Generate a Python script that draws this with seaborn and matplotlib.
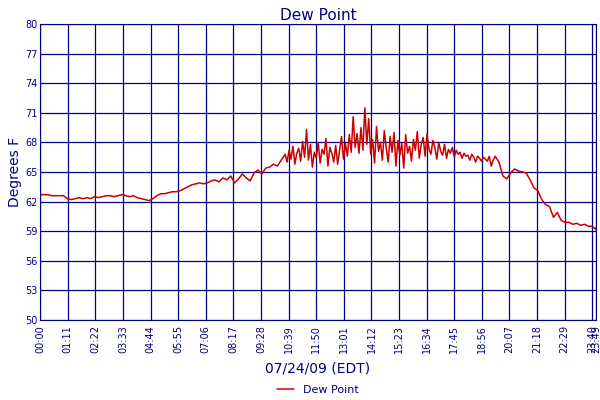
import matplotlib
matplotlib.use("Agg")
import matplotlib.pyplot as plt
import seaborn as sns
import pandas as pd

# quiet morning, 10-minute readings 00:00 - 10:20
early_vals = [62.7, 62.7, 62.7, 62.6, 62.6, 62.6, 62.6, 62.3, 62.2, 62.3, 62.4, 62.3,
              62.4, 62.3, 62.5, 62.4, 62.5, 62.6, 62.6, 62.5, 62.6, 62.7, 62.6, 62.5,
              62.6, 62.4, 62.3, 62.2, 62.1, 62.3, 62.6, 62.8, 62.8, 62.9, 63.0, 63.0,
              63.1, 63.3, 63.5, 63.7, 63.8, 63.9, 63.8, 63.9, 64.1, 64.2, 64.0, 64.4,
              64.2, 64.6, 63.9, 64.3, 64.8, 64.4, 64.1, 64.9, 65.2, 64.8, 65.4, 65.5,
              65.8, 65.6, 66.2]
# noisy middle of the day, 5-minute readings 10:30 - 19:25
mid_vals = [66.8, 66.0, 67.2, 66.3, 67.6, 65.8, 66.9, 67.4, 66.1, 68.1, 66.5, 69.3,
            66.2, 67.8, 65.5, 67.0, 66.4, 68.0, 65.9, 67.3, 66.8, 68.4, 65.6, 67.5,
            66.9, 66.0, 67.7, 65.8, 67.2, 68.6, 66.3, 67.9, 66.6, 68.8, 67.0, 70.6,
            67.5, 68.9, 66.9, 69.5, 67.2, 71.5, 67.8, 70.4, 66.8, 68.3, 65.9, 69.6,
            67.1, 68.0, 66.2, 69.2, 67.4, 66.0, 68.6, 67.0, 69.0, 65.6, 68.2, 66.7,
            67.9, 65.4, 68.8, 66.9, 67.6, 66.1, 68.3, 67.2, 69.1, 66.4, 67.8, 68.5,
            66.6, 68.9, 67.3, 66.8, 68.2, 67.5, 66.3, 68.0, 67.1, 66.7, 67.8, 66.4,
            67.3, 66.9, 67.5, 66.5, 67.2, 66.8, 67.0, 66.4, 66.9, 66.6, 66.7, 66.2,
            66.8, 66.5, 66.0, 66.6, 66.4, 66.1, 66.5, 66.3, 66.1, 66.6, 65.6, 66.2]
# evening drop, 10-minute readings 19:30 - 23:40
late_vals = [66.6, 66.0, 64.6, 64.3, 64.9, 65.3, 65.1, 65.0, 64.9, 64.2, 63.4, 63.1,
             62.2, 61.7, 61.5, 60.4, 60.9, 60.1, 59.9, 59.9, 59.7, 59.8, 59.6, 59.7,
             59.5, 59.5, 59.4]
end_val = 59.2

times = ([i * 10 for i in range(len(early_vals))]
         + [630 + i * 5 for i in range(len(mid_vals))]
         + [1170 + i * 10 for i in range(len(late_vals))]
         + [1429])
vals = early_vals + mid_vals + late_vals + [end_val]
df = pd.DataFrame({"minute": times, "dew": vals})

tick_minutes = [i * 71 for i in range(21)] + [1429]
tick_labels = ["%02d:%02d" % (m // 60, m % 60) for m in tick_minutes]
navy = "#000080"

sns.set_style("white")
plt.rcParams["font.family"] = ["DejaVu Sans"]
fig, ax = plt.subplots(figsize=(6, 4), dpi=100)
sns.lineplot(data=df, x="minute", y="dew", color="#cc0000", lw=1.1, ax=ax, label="Dew Point")
ax.set_xlim(0, 1429)
ax.set_ylim(50, 80)
ax.set_xticks(tick_minutes)
ax.set_xticklabels(tick_labels, rotation=90, fontsize=7, color=navy)
ax.set_yticks(range(50, 81, 3))
ax.tick_params(axis="y", labelsize=7, colors=navy, length=0, pad=2)
ax.tick_params(axis="x", colors=navy, length=0)
ax.grid(True, color=navy, lw=0.9)
for s in ax.spines.values():
    s.set_color(navy)
ax.set_title("Dew Point", color=navy, fontsize=11, pad=3)
ax.set_ylabel("Degrees F", color=navy, fontsize=10, labelpad=2)
ax.set_xlabel("07/24/09 (EDT)", color=navy, fontsize=10, labelpad=6)
ax.legend(loc="center", bbox_to_anchor=(0.5, -0.237), frameon=False, fontsize=8,
          handlelength=1.5, labelcolor=navy)
fig.subplots_adjust(left=0.067, right=0.993, top=0.94, bottom=0.2)
fig.savefig("out.png")
